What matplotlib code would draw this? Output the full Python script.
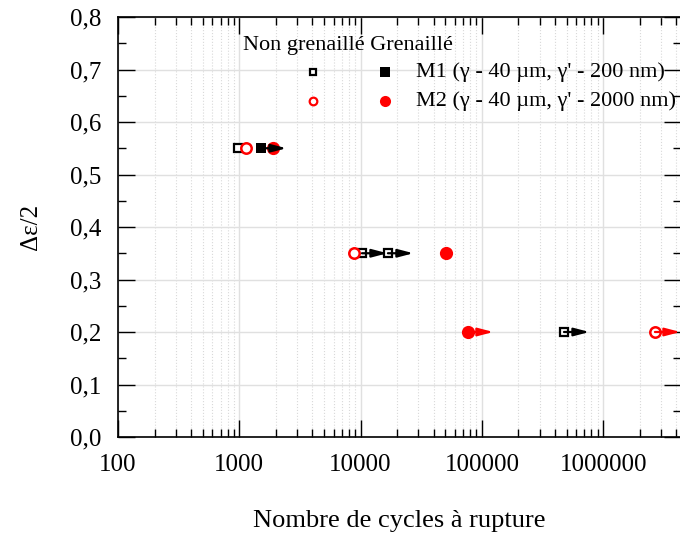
"""Fatigue life (strain amplitude vs cycles to failure), shot-peened vs not."""

import matplotlib

matplotlib.use("Agg")
import matplotlib.pyplot as plt
from matplotlib.ticker import FixedLocator, LogLocator, NullFormatter

plt.rcParams["font.family"] = ["Liberation Serif", "DejaVu Serif"]

# Data (cycles, strain amplitude, runout flag)
m1_np_cycles = [980, 10260, 16800, 475000]
m1_np_strain = [0.55, 0.35, 0.35, 0.20]
m1_np_runout = [False, True, True, True]

m1_g_cycles = [1510]
m1_g_strain = [0.55]
m1_g_runout = [True]

m2_np_cycles = [1135, 8830, 2670000]
m2_np_strain = [0.55, 0.35, 0.20]
m2_np_runout = [False, False, True]

m2_g_cycles = [1900, 50600, 76700]
m2_g_strain = [0.55, 0.35, 0.20]
m2_g_runout = [False, False, True]

x_ticks = [100, 1000, 10000, 100000, 1000000]
x_tick_labels = ["100", "1000", "10000", "100000", "1000000"]
y_ticks = [0.0, 0.1, 0.2, 0.3, 0.4, 0.5, 0.6, 0.7, 0.8]
y_tick_labels = ["0,0", "0,1", "0,2", "0,3", "0,4", "0,5", "0,6", "0,7", "0,8"]

RED = "#ff0000"
ARROW_DECADES = 0.21
ARROW_STYLE = "-|>,head_length=0.65,head_width=0.17"

fig = plt.figure(figsize=(6.8, 5.34), dpi=100)
ax = fig.add_axes([118 / 680, 97 / 534, 563 / 680, 420 / 534])

# (cycles, strain, runout, marker, face, edge, size, edge width)
series = [
    (m1_np_cycles, m1_np_strain, m1_np_runout, "s", "white", "black", 5.8, 1.6),
    (m2_np_cycles, m2_np_strain, m2_np_runout, "o", "white", RED, 7.5, 1.8),
    (m1_g_cycles, m1_g_strain, m1_g_runout, "s", "black", "black", 7.5, 0),
    (m2_g_cycles, m2_g_strain, m2_g_runout, "o", RED, RED, 9.5, 0),
]

for cycles, strain, runout, marker, face, edge, size, mew in series:
    ax.plot(cycles, strain, linestyle="none", marker=marker, markersize=size,
            markerfacecolor=face, markeredgecolor=edge, markeredgewidth=mew,
            zorder=3, clip_on=False)
    for n, s, r in zip(cycles, strain, runout):
        if r:
            ax.annotate("", xy=(n * 10 ** ARROW_DECADES, s), xytext=(n, s),
                        arrowprops=dict(arrowstyle=ARROW_STYLE, color=edge, lw=1.6,
                                        mutation_scale=14, shrinkA=0, shrinkB=0),
                        zorder=4, annotation_clip=False)

ax.set_xscale("log")
ax.set_xlim(100, 10 ** (2 + 563 / 121.3))
ax.set_ylim(0, 0.8)

ax.xaxis.set_major_locator(FixedLocator(x_ticks))
ax.set_xticklabels(x_tick_labels)
ax.xaxis.set_minor_locator(LogLocator(base=10, subs=range(2, 10)))
ax.xaxis.set_minor_formatter(NullFormatter())
ax.set_yticks(y_ticks)
ax.set_yticklabels(y_tick_labels)
ax.yaxis.set_minor_locator(FixedLocator([0.05 + 0.1 * i for i in range(8)]))

ax.tick_params(which="both", direction="in", top=True, right=True,
               labelsize=18, width=1)
ax.tick_params(axis="x", which="major", length=12, pad=12)
ax.tick_params(axis="y", which="major", length=12, pad=12)
ax.tick_params(which="minor", length=6)

ax.grid(which="major", color="#e0e0e0", linewidth=1, linestyle="-")
ax.grid(which="minor", axis="x", color="#d9d9d9", linewidth=0.8, linestyle=":")
ax.set_axisbelow(True)
for spine in ax.spines.values():
    spine.set_linewidth(1.2)

ax.set_xlabel("Nombre de cycles à rupture", fontsize=19, labelpad=25)
ax.set_ylabel("Δε/2", fontsize=18, labelpad=20)

# Custom legend
ax.text(0.222, 0.931, "Non grenaillé Grenaillé", transform=ax.transAxes,
        fontsize=16, va="center", ha="left")
# (y, marker, color, open size, filled size, label)
legend_rows = [
    (0.869, "s", "black", 5, 7, "M1 (γ - 40 µm, γ' - 200 nm)"),
    (0.800, "o", RED, 5.5, 8, "M2 (γ - 40 µm, γ' - 2000 nm)"),
]
for y, marker, color, open_size, filled_size, label in legend_rows:
    ax.plot([0.346], [y], marker=marker, markersize=open_size,
            markerfacecolor="white", markeredgecolor=color, markeredgewidth=1.6,
            transform=ax.transAxes, linestyle="none")
    ax.plot([0.474], [y], marker=marker, markersize=filled_size,
            markerfacecolor=color, markeredgecolor=color, markeredgewidth=0,
            transform=ax.transAxes, linestyle="none")
    ax.text(0.529, y, label, transform=ax.transAxes, fontsize=16,
            va="center", ha="left")

fig.savefig("out.png", dpi=100)
